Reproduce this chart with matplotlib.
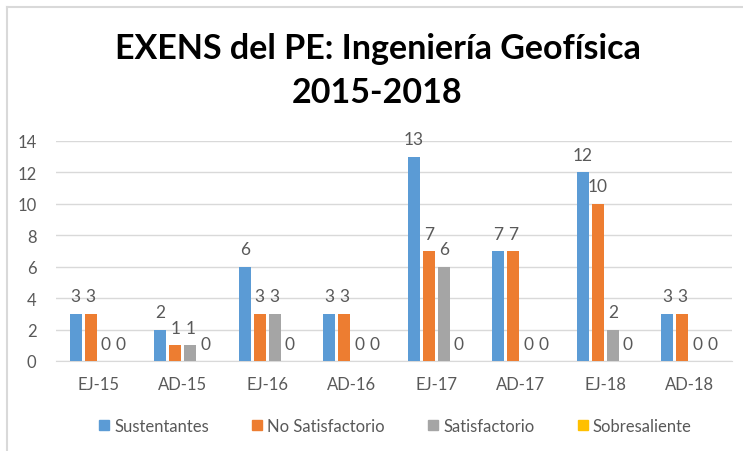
import matplotlib
matplotlib.use("Agg")
import matplotlib.pyplot as plt
from matplotlib.lines import Line2D
import numpy as np

categories = ["EJ-15", "AD-15", "EJ-16", "AD-16", "EJ-17", "AD-17", "EJ-18", "AD-18"]
series_names = ["Sustentantes", "No Satisfactorio", "Satisfactorio", "Sobresaliente"]
sustentantes = [3, 2, 6, 3, 13, 7, 12, 3]
no_satisfactorio = [3, 1, 3, 3, 7, 7, 10, 3]
satisfactorio = [0, 1, 3, 0, 6, 0, 2, 0]
sobresaliente = [0, 0, 0, 0, 0, 0, 0, 0]
colors = ["#5B9BD5", "#ED7D31", "#A5A5A5", "#FFC000"]
title = "EXENS del PE: Ingeniería Geofísica\n2015-2018"

plt.rcParams['font.family'] = ['Lato', 'DejaVu Sans']
fig = plt.figure(figsize=(7.43, 4.52), dpi=100)
ax = fig.add_axes([56/743, 1-362/452, (732-56)/743, (362-142)/452])

data = [sustentantes, no_satisfactorio, satisfactorio, sobresaliente]
x = np.arange(len(categories))
slot = 0.177
width = 0.142
txt = "#595959"
for i, (vals, c, name) in enumerate(zip(data, colors, series_names)):
    pos = x + (i - 1.5) * slot
    ax.bar(pos, vals, width=width, color=c, label=name, zorder=3)
    for p, v in zip(pos, vals):
        ax.text(p, v + 0.6, str(v), ha="center", va="bottom", fontsize=12.5,
                color=txt, clip_on=False)

ax.set_xlim(-0.5, len(categories) - 0.5)
ax.set_ylim(0, 14)
ax.set_yticks(range(0, 15, 2))
ax.set_xticks(x)
ax.set_xticklabels(categories)
ax.tick_params(axis="both", length=0, labelsize=12, labelcolor=txt)
ax.tick_params(axis="x", pad=11)
ax.tick_params(axis="y", pad=14)
ax.grid(axis="y", color="#D9D9D9", linewidth=1, zorder=0)
for s in ["top", "right", "left"]:
    ax.spines[s].set_visible(False)
ax.spines["bottom"].set_color("#D9D9D9")

fig.text(0.508, 1-71/452, title, ha="center", va="center", fontsize=24.5,
         fontweight="bold", color="black", linespacing=1.45)

handles = [Line2D([0], [0], marker="s", linestyle="none", markersize=7,
                  markerfacecolor=c, markeredgecolor=c) for c in colors]
fig.legend(handles, series_names, loc="center", bbox_to_anchor=(0.53, 1-427/452),
           ncol=4, frameon=False, fontsize=12, labelcolor=txt,
           handletextpad=0.1, columnspacing=2.4, handlelength=1.0)

# outer frame lines (top and left)
fig.add_artist(Line2D([7/743, 7/743], [0, 1-8/452], color="#D9D9D9", lw=1.5,
                      transform=fig.transFigure))
fig.add_artist(Line2D([7/743, 1], [1-8/452, 1-8/452], color="#D9D9D9", lw=1.5,
                      transform=fig.transFigure))

fig.savefig("out.png", dpi=100, facecolor="white")
